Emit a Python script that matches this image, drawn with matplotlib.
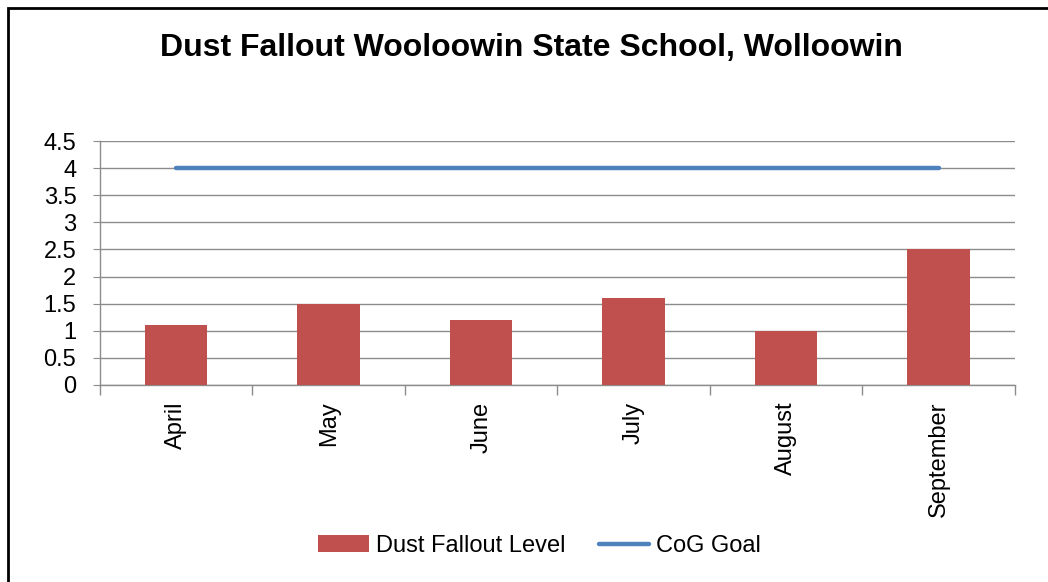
import matplotlib.pyplot as plt
import numpy as np
from matplotlib.patches import Rectangle
from matplotlib.ticker import FixedLocator

# data
months = ['April', 'May', 'June', 'July', 'August', 'September']
dust_fallout = [1.1, 1.5, 1.2, 1.6, 1.0, 2.5]
cog_goal = [4, 4, 4, 4, 4, 4]

plt.rcParams['font.family'] = ['Liberation Sans', 'DejaVu Sans']

fig = plt.figure(figsize=(10.48, 5.82), dpi=100)
ax = fig.add_axes([0.0954, 0.3385, 0.873, 0.4192])

x = np.arange(len(months))
bars = ax.bar(x, dust_fallout, width=0.41, color='#C0504D', label='Dust Fallout Level', zorder=3)
line, = ax.plot(x, cog_goal, color='#4F81BD', linewidth=3.2, label='CoG Goal', zorder=4,
                solid_capstyle='round')

ax.set_xlim(-0.5, len(months) - 0.5)
ax.set_ylim(0, 4.5)
yt = np.arange(0, 4.51, 0.5)
ax.yaxis.set_major_locator(FixedLocator(yt))
ax.set_yticklabels([f'{v:g}' for v in yt])
ax.grid(axis='y', color='#8c8c8c', linewidth=1, zorder=0)

ax.set_xticks(x)
ax.set_xticklabels(months, rotation=90, fontsize=17)
ax.set_xticks(np.arange(-0.5, len(months)), minor=True)
ax.tick_params(axis='x', which='major', length=0, pad=12)
ax.tick_params(axis='x', which='minor', length=7, color='#8c8c8c', width=1)
ax.tick_params(axis='y', length=5, color='#8c8c8c', labelsize=17, pad=12)

for side in ['top', 'right']:
    ax.spines[side].set_visible(False)
for side in ['left', 'bottom']:
    ax.spines[side].set_color('#8c8c8c')
    ax.spines[side].set_linewidth(1)

fig.text(0.507, 0.918, 'Dust Fallout Wooloowin State School, Wolloowin',
         ha='center', va='center', fontsize=23, fontweight='bold')

fig.legend([bars, line], ['Dust Fallout Level', 'CoG Goal'], loc='center',
           bbox_to_anchor=(0.515, 0.062), ncol=2, frameon=False,
           fontsize=17, handlelength=2.15, columnspacing=1.4, handletextpad=0.3)

# outer frame
fig.patches.append(Rectangle((8 / 1048, -0.1), 1.2, 1 - 8 / 582 + 0.1,
                             transform=fig.transFigure, fill=False,
                             edgecolor='black', linewidth=2))

fig.savefig('out.png', dpi=100)
